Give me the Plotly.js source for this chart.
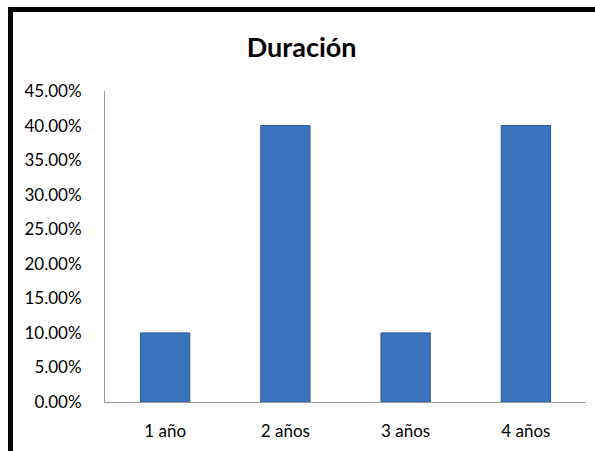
<!DOCTYPE html>
<html>
<head>
<meta charset="utf-8">
<script src="https://cdn.plot.ly/plotly-3.0.1.min.js"></script>
<style>
  html, body { margin: 0; padding: 0; background: #fff; }
  #wrap { position: relative; width: 595px; height: 451px; overflow: hidden; }
  #chart { position: absolute; left: 0; top: 0; width: 595px; height: 451px; }
  #frame { position: absolute; left: 8px; top: 7px; width: 640px; height: 500px;
           border: 5px solid #000; box-sizing: border-box; pointer-events: none; }
</style>
</head>
<body>
<div id="wrap">
  <div id="chart"></div>
  <div id="frame"></div>
</div>
<script>
const categories = ["1 año", "2 años", "3 años", "4 años"];
const values = [0.10, 0.40, 0.10, 0.40];
const tickValues = [0, 0.05, 0.10, 0.15, 0.20, 0.25, 0.30, 0.35, 0.40, 0.45];
const tickLabels = ["0.00%", "5.00%", "10.00%", "15.00%", "20.00%", "25.00%", "30.00%", "35.00%", "40.00%", "45.00%"];
const chartTitle = "Duración";

const fontFamily = "Lato, 'Open Sans', sans-serif";

Plotly.newPlot("chart", [{
  type: "bar",
  x: categories,
  y: values,
  marker: { color: "#3a74bf", line: { color: "#2b5a96", width: 1 } },
  hoverinfo: "x+y"
}], {
  width: 595,
  height: 451,
  margin: { l: 105, r: 9, t: 91, b: 49 },
  paper_bgcolor: "#fff",
  plot_bgcolor: "#fff",
  bargap: 0.59,
  showlegend: false,
  title: {
    text: "<b>" + chartTitle + "</b>",
    font: { family: fontFamily, size: 27, color: "#000" },
    x: 0.507, xanchor: "center",
    y: 0.895, yanchor: "middle"
  },
  xaxis: {
    type: "category",
    showline: true, linecolor: "#9a9a9a", linewidth: 1,
    showgrid: false, zeroline: false, ticks: "",
    ticklabelstandoff: 14,
    tickfont: { family: fontFamily, size: 17, color: "#000" }
  },
  yaxis: {
    range: [0, 0.45],
    tickvals: tickValues,
    ticktext: tickLabels,
    showline: true, linecolor: "#9a9a9a", linewidth: 1,
    showgrid: false, zeroline: false, ticks: "",
    ticklabelstandoff: 19,
    tickfont: { family: fontFamily, size: 17, color: "#000" }
  }
}, { displayModeBar: false, staticPlot: true });
</script>
</body>
</html>
